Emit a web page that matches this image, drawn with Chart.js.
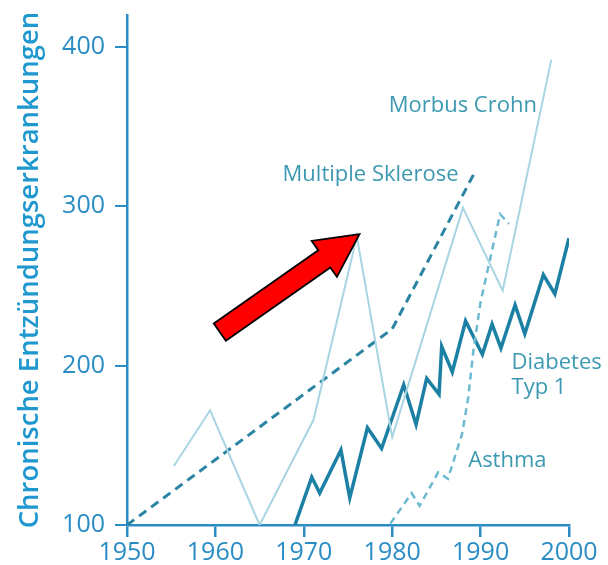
<!DOCTYPE html>
<html>
<head>
<meta charset="utf-8">
<script src="https://cdn.jsdelivr.net/npm/chart.js@4"></script>
<style>
  body { margin: 0; background: #fff; }
  canvas { display: block; }
</style>
</head>
<body>
<canvas id="chronicChart" width="608" height="565"></canvas>
<script>
// data
const xTicks = [1950, 1960, 1970, 1980, 1990, 2000];
const yTicks = [100, 200, 300, 400];

const diabetesYears = [1969, 1970.9, 1971.8, 1974.2, 1975.2, 1977.2, 1978.8, 1981.3, 1982.7, 1983.9, 1985.3, 1985.6, 1986.8, 1988.3, 1990.2, 1991.3, 1992.3, 1993.9, 1995, 1997.1, 1998.4, 2000];
const diabetesValues = [100, 130, 120, 147, 117, 161, 148, 188, 163, 192, 182, 212, 196, 228, 207, 226, 211, 238, 220, 257, 245, 280];

const msYears = [1950, 1980, 1989.5];
const msValues = [100, 223, 323];

const crohnYears = [1955.3, 1959.4, 1965, 1971.1, 1976, 1980, 1988, 1992.5, 1998];
const crohnValues = [137, 172, 100, 166, 281, 155, 299, 247, 392];

const asthmaYears = [1979.8, 1982.2, 1983.1, 1985.2, 1986.3, 1987.9, 1988.6, 1989.2, 1990, 1991, 1992.2, 1993.2];
const asthmaValues = [101, 120, 112, 133, 129, 157, 180, 210, 240, 265, 295, 289];

function toPoints(xs, ys) {
  return xs.map((x, i) => ({ x: x, y: ys[i] }));
}

const textColor = '#3d99b2';
const axisColor = '#2a8cc4';

// labels placed next to the lines (year, value at left of baseline)
const seriesLabels = [
  { text: 'Morbus Crohn', x: 1979.6, y: 359 },
  { text: 'Multiple Sklerose', x: 1967.6, y: 316 },
  { text: 'Diabetes', x: 1993.5, y: 198 },
  { text: 'Typ 1', x: 1993.5, y: 182.5 },
  { text: 'Asthma', x: 1988.6, y: 136.5 }
];

// red arrow from tail to tip in data units
const arrowFrom = { x: 1960.5, y: 221 };
const arrowTo = { x: 1976.3, y: 282.5 };

const annotationsPlugin = {
  id: 'annotations',
  afterDatasetsDraw(chart) {
    const ctx = chart.ctx;
    const xs = chart.scales.x;
    const ys = chart.scales.y;
    ctx.save();
    ctx.font = '22px "Open Sans"';
    ctx.fillStyle = textColor;
    ctx.textAlign = 'left';
    ctx.textBaseline = 'alphabetic';
    seriesLabels.forEach(l => {
      ctx.fillText(l.text, xs.getPixelForValue(l.x), ys.getPixelForValue(l.y));
    });

    // arrow
    const x0 = xs.getPixelForValue(arrowFrom.x), y0 = ys.getPixelForValue(arrowFrom.y);
    const x1 = xs.getPixelForValue(arrowTo.x), y1 = ys.getPixelForValue(arrowTo.y);
    const len = Math.hypot(x1 - x0, y1 - y0);
    const ang = Math.atan2(y1 - y0, x1 - x0);
    const shaft = 10.5, head = 22, headLen = 43;
    ctx.translate(x0, y0);
    ctx.rotate(ang);
    ctx.beginPath();
    ctx.moveTo(0, -shaft);
    ctx.lineTo(len - headLen, -shaft);
    ctx.lineTo(len - headLen, -head);
    ctx.lineTo(len, 0);
    ctx.lineTo(len - headLen, head);
    ctx.lineTo(len - headLen, shaft);
    ctx.lineTo(0, shaft);
    ctx.closePath();
    ctx.fillStyle = '#ff0000';
    ctx.fill();
    ctx.lineWidth = 1.8;
    ctx.strokeStyle = '#000';
    ctx.lineJoin = 'miter';
    ctx.stroke();
    ctx.restore();
  }
};

const data = {
  datasets: [
    {
      label: 'Morbus Crohn',
      data: toPoints(crohnYears, crohnValues),
      borderColor: '#a9d5e2',
      borderWidth: 2,
      pointRadius: 0,
      tension: 0
    },
    {
      label: 'Asthma',
      data: toPoints(asthmaYears, asthmaValues),
      borderColor: '#6db9d0',
      borderWidth: 2.5,
      borderDash: [7, 5],
      pointRadius: 0,
      tension: 0
    },
    {
      label: 'Multiple Sklerose',
      data: toPoints(msYears, msValues),
      borderColor: '#2a84a2',
      borderWidth: 3,
      borderDash: [9, 6],
      pointRadius: 0,
      tension: 0
    },
    {
      label: 'Diabetes Typ 1',
      data: toPoints(diabetesYears, diabetesValues),
      borderColor: '#1b80a4',
      borderWidth: 3.5,
      pointRadius: 0,
      tension: 0,
      borderJoinStyle: 'miter'
    }
  ]
};

const config = {
  type: 'line',
  data: data,
  options: {
    responsive: false,
    animation: false,
    layout: { padding: { top: 15, right: 39, bottom: 0, left: 0 } },
    plugins: {
      legend: { display: false },
      tooltip: { enabled: false }
    },
    scales: {
      x: {
        type: 'linear',
        min: 1950,
        max: 2000,
        afterBuildTicks: (scale) => { scale.ticks = xTicks.map(v => ({ value: v })); },
        afterFit: (scale) => { scale.height = 40; },
        border: { display: true, color: axisColor, width: 2.5 },
        grid: { drawOnChartArea: false, drawTicks: true, tickLength: 12, color: axisColor, lineWidth: 2.5 },
        ticks: {
          color: axisColor,
          padding: 1,
          maxRotation: 0,
          font: { family: '"Open Sans"', size: 25 },
          callback: (v) => String(v)
        }
      },
      y: {
        min: 100,
        max: 420,
        afterBuildTicks: (scale) => { scale.ticks = yTicks.map(v => ({ value: v })); },
        afterFit: (scale) => {
          scale.width = 127;
          scale.paddingTop = 0;
          scale.paddingBottom = 0;
        },
        border: { display: true, color: axisColor, width: 2.5 },
        grid: { drawOnChartArea: false, drawTicks: true, tickLength: 12, color: axisColor, lineWidth: 2 },
        title: {
          display: true,
          text: 'Chronische Entzündungserkrankungen',
          color: '#1f98d0',
          padding: { top: 14, bottom: 0 },
          font: { family: '"Open Sans"', size: 27.5, weight: '600' }
        },
        ticks: {
          color: axisColor,
          padding: 10,
          font: { family: '"Open Sans"', size: 25 },
          callback: (v) => String(v)
        }
      }
    }
  },
  plugins: [annotationsPlugin]
};

const chronicChart = new Chart(
  document.getElementById('chronicChart'),
  config
);
</script>
</body>
</html>
